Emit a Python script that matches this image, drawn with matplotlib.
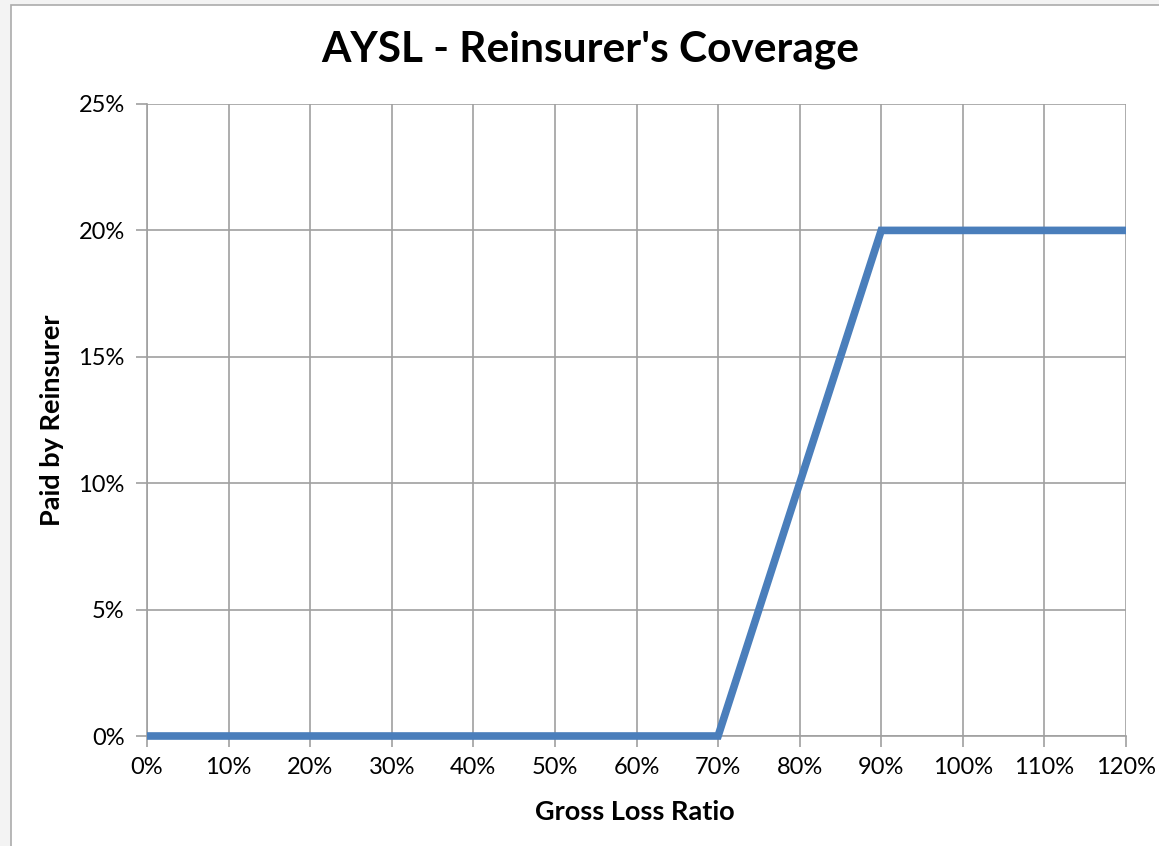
import matplotlib.pyplot as plt
from matplotlib.patches import Rectangle
from matplotlib.ticker import FuncFormatter, MultipleLocator

# gross loss ratio vs share paid by reinsurer
loss_ratio = [0.0, 0.7, 0.9, 1.2]
paid = [0.0, 0.0, 0.2, 0.2]

plt.rcParams['font.family'] = ['Lato', 'DejaVu Sans']

W, H = 1159, 846
fig = plt.figure(figsize=(W / 100, H / 100), dpi=100, facecolor='#f3f3f3')

# white chart frame with thin gray border
fig.patches.append(Rectangle((11 / W, -0.1), 1.2, 1 - 5 / H + 0.1,
                             transform=fig.transFigure, facecolor='white',
                             edgecolor='#ababab', linewidth=1.2, zorder=-10))

ax = fig.add_axes([147 / W, 1 - 736 / H, (1126 - 147) / W, (736 - 104) / H])
ax.set_facecolor('white')

ax.plot(loss_ratio, paid, color='#4a7ebb', linewidth=5.5, solid_joinstyle='miter',
        solid_capstyle='butt', zorder=3, clip_on=False)

ax.set_xlim(0, 1.2)
ax.set_ylim(0, 0.25)
ax.xaxis.set_major_locator(MultipleLocator(0.1))
ax.yaxis.set_major_locator(MultipleLocator(0.05))
pct = FuncFormatter(lambda v, _: f'{v * 100:.0f}%')
ax.xaxis.set_major_formatter(pct)
ax.yaxis.set_major_formatter(pct)

ax.grid(True, color='#a0a0a0', linewidth=1.2)
ax.set_axisbelow(True)
for side in ['top', 'right']:
    ax.spines[side].set_visible(False)
for side in ['left', 'bottom']:
    ax.spines[side].set_color('#a0a0a0')
    ax.spines[side].set_linewidth(1.2)

ax.tick_params(axis='both', colors='#a0a0a0', labelcolor='black', labelsize=17,
               length=8, width=1.2, direction='out')
ax.tick_params(axis='x', pad=7)
ax.tick_params(axis='y', pad=8)

fig.text(590 / W, 1 - 50 / H, "AYSL - Reinsurer's Coverage", ha='center', va='center',
         fontsize=30.5, fontweight='bold')
fig.text(635 / W, 1 - 812 / H, 'Gross Loss Ratio', ha='center', va='center',
         fontsize=19.5, fontweight='bold')
fig.text(52 / W, 1 - 420 / H, 'Paid by Reinsurer', ha='center', va='center',
         rotation=90, fontsize=19.5, fontweight='bold')

fig.savefig('out.png', dpi=100, facecolor=fig.get_facecolor())
